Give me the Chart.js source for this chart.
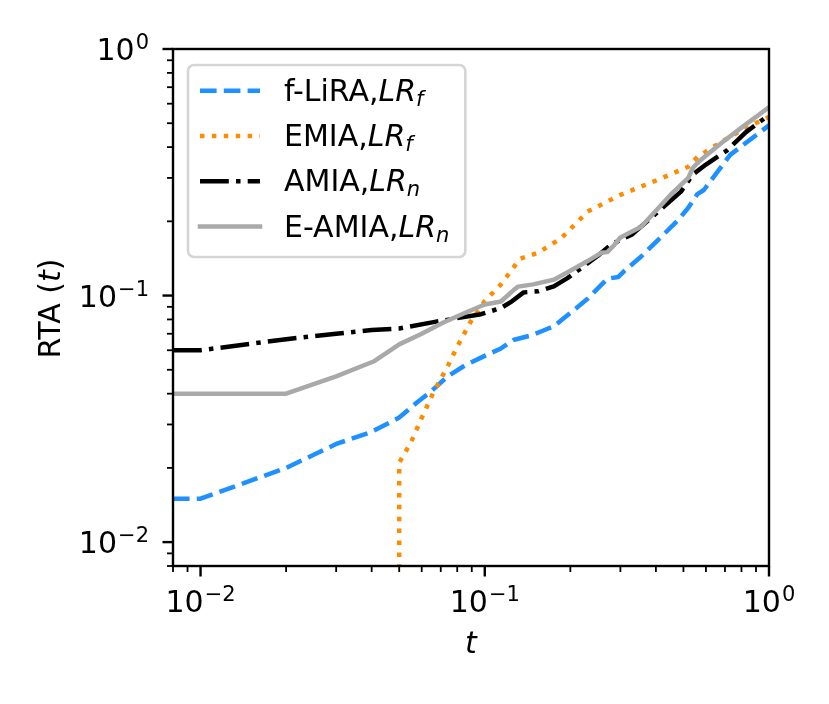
<!DOCTYPE html>
<html>
<head>
<meta charset="utf-8">
<script src="https://cdn.jsdelivr.net/npm/chart.js@4.4.0/dist/chart.umd.min.js"></script>
<style>
  html, body { margin: 0; padding: 0; background: #fff; }
</style>
</head>
<body>
<canvas id="rta" width="829" height="704"></canvas>
<script>
// values (log-log)
const tFLiRA   = [0.008, 0.01, 0.02, 0.03, 0.04, 0.05, 0.058, 0.065, 0.074, 0.085, 0.097, 0.114, 0.126, 0.146, 0.16, 0.175, 0.19, 0.23, 0.27, 0.295, 0.31, 0.355, 0.394, 0.48, 0.52, 0.56, 0.59, 0.73, 1.0]
const rtaFLiRA = [0.015, 0.015, 0.020, 0.025, 0.028, 0.032, 0.037, 0.041, 0.047, 0.052, 0.056, 0.061, 0.066, 0.069, 0.072, 0.075, 0.081, 0.097, 0.117, 0.119, 0.126, 0.144, 0.162, 0.203, 0.227, 0.258, 0.268, 0.372, 0.49]

const tEMIA   = [0.05, 0.05, 0.055, 0.0596, 0.066, 0.074, 0.08, 0.089, 0.1, 0.114, 0.133, 0.154, 0.186, 0.23, 0.3, 0.39, 0.52, 0.56, 0.68, 0.83, 1.0]
const rtaEMIA = [0.004, 0.021, 0.0254, 0.0314, 0.0405, 0.0516, 0.062, 0.078, 0.095, 0.111, 0.141, 0.149, 0.171, 0.219, 0.256, 0.289, 0.333, 0.365, 0.42, 0.48, 0.53]

const tAMIA   = [0.008, 0.01, 0.02, 0.03, 0.04, 0.05, 0.066, 0.08, 0.097, 0.114, 0.125, 0.137, 0.154, 0.175, 0.196, 0.22, 0.25, 0.278, 0.33, 0.415, 0.49, 0.54, 0.6, 0.71, 0.83, 1.0]
const rtaAMIA = [0.06, 0.06, 0.0665, 0.070, 0.0725, 0.0735, 0.078, 0.081, 0.084, 0.089, 0.095, 0.103, 0.104, 0.109, 0.118, 0.13, 0.145, 0.161, 0.177, 0.223, 0.264, 0.31, 0.34, 0.387, 0.46, 0.54]

const tEAMIA   = [0.008, 0.02, 0.03, 0.0406, 0.05, 0.06, 0.0715, 0.085, 0.1, 0.114, 0.126, 0.131, 0.148, 0.175, 0.2, 0.23, 0.257, 0.27, 0.285, 0.3, 0.355, 0.45, 0.52, 0.54, 0.575, 0.68, 0.8, 1.0]
const rtaEAMIA = [0.04, 0.04, 0.047, 0.054, 0.0634, 0.070, 0.0778, 0.085, 0.092, 0.0946, 0.105, 0.1087, 0.111, 0.116, 0.126, 0.138, 0.149, 0.15, 0.16, 0.172, 0.19, 0.256, 0.30, 0.33, 0.355, 0.416, 0.48, 0.58]

const seriesNames = ['f-LiRA', 'EMIA', 'AMIA', 'E-AMIA']
const seriesSubs = ['f', 'f', 'n', 'n']

// tick positions, same on both axes (decades get labels)
const tickValues = [0.008, 0.009, 0.01, 0.02, 0.03, 0.04, 0.05, 0.06, 0.07, 0.08, 0.09,
  0.1, 0.2, 0.3, 0.4, 0.5, 0.6, 0.7, 0.8, 0.9, 1]
const axisMin = 0.008
const axisMax = 1

const fontFamily = "'DejaVu Sans', sans-serif"
const fs = 30
const lw = 4.5

const isDecade = v => Math.abs(Math.log10(v) - Math.round(Math.log10(v))) < 1e-9
const decadeExp = v => String(Math.round(Math.log10(v))).replace('-', '\u2212')
const toPoints = (xs, ys) => xs.map((x, i) => ({ x, y: ys[i] }))

// spines and tick marks, matplotlib style
const frameAndTicks = {
  id: 'frameAndTicks',
  afterDatasetsDraw(chart) {
    const { ctx, chartArea: a, scales: { x, y } } = chart
    ctx.save()
    ctx.strokeStyle = '#000'
    ctx.setLineDash([])
    x.ticks.forEach(t => {
      const major = isDecade(t.value)
      const px = x.getPixelForValue(t.value)
      ctx.lineWidth = major ? 2.4 : 1.8
      ctx.beginPath()
      ctx.moveTo(px, a.bottom)
      ctx.lineTo(px, a.bottom + (major ? 10.5 : 6))
      ctx.stroke()
    })
    y.ticks.forEach(t => {
      const major = isDecade(t.value)
      const py = y.getPixelForValue(t.value)
      ctx.lineWidth = major ? 2.4 : 1.8
      ctx.beginPath()
      ctx.moveTo(a.left, py)
      ctx.lineTo(a.left - (major ? 10.5 : 6), py)
      ctx.stroke()
    })
    ctx.lineWidth = 2.4
    ctx.strokeRect(a.left, a.top, a.right - a.left, a.bottom - a.top)
    ctx.restore()
  }
}

// decade labels as 10 with a raised exponent
const tickLabels = {
  id: 'tickLabels',
  afterDraw(chart) {
    const { ctx, chartArea: a, scales: { x, y } } = chart
    const big = fs + 'px ' + fontFamily
    const sup = (fs * 0.7) + 'px ' + fontFamily
    const measure = v => {
      ctx.font = big
      const wb = ctx.measureText('10').width
      ctx.font = sup
      return [wb, ctx.measureText(decadeExp(v)).width]
    }
    const draw = (v, left, base) => {
      const [wb] = measure(v)
      ctx.font = big
      ctx.fillText('10', left, base)
      ctx.font = sup
      ctx.fillText(decadeExp(v), left + wb + 1, base - 11)
    }
    ctx.save()
    ctx.fillStyle = '#000'
    ctx.textBaseline = 'alphabetic'
    ctx.textAlign = 'left'
    x.ticks.filter(t => isDecade(t.value)).forEach(t => {
      const [wb, we] = measure(t.value)
      const px = x.getPixelForValue(t.value)
      draw(t.value, px - (wb + 1 + we) / 2, a.bottom + 46)
    })
    y.ticks.filter(t => isDecade(t.value)).forEach(t => {
      const [wb, we] = measure(t.value)
      const py = y.getPixelForValue(t.value)
      draw(t.value, a.left - 24 - (wb + 1 + we), py + 11)
    })
    ctx.restore()
  }
}

// y title with italic t
const yTitle = {
  id: 'yTitle',
  afterDraw(chart) {
    const { ctx, chartArea: a } = chart
    const parts = [['RTA (', ''], ['t', 'italic '], [')', '']]
    ctx.save()
    ctx.translate(60, (a.top + a.bottom) / 2 + 1)
    ctx.rotate(-Math.PI / 2)
    ctx.fillStyle = '#000'
    ctx.textBaseline = 'alphabetic'
    let total = 0
    parts.forEach(p => { ctx.font = p[1] + fs + 'px ' + fontFamily; total += ctx.measureText(p[0]).width })
    let cx = -total / 2
    parts.forEach(p => {
      ctx.font = p[1] + fs + 'px ' + fontFamily
      ctx.fillText(p[0], cx, 0)
      cx += ctx.measureText(p[0]).width
    })
    ctx.restore()
  }
}

// legend with mathtext-like labels
const legendBox = {
  id: 'legendBox',
  afterDraw(chart) {
    const { ctx, chartArea: a } = chart
    const pad = 12, handleLen = 60, textPad = 24, rowGap = 45.3
    const left = a.left + 15, top = a.top + 16
    const upright = fs + 'px ' + fontFamily
    const italic = 'italic ' + fs + 'px ' + fontFamily
    const small = 'italic ' + (fs * 0.7) + 'px ' + fontFamily
    ctx.save()
    const widths = seriesNames.map((n, i) => {
      ctx.font = upright
      let w = ctx.measureText(n + ',').width
      ctx.font = italic
      w += ctx.measureText('LR').width
      ctx.font = small
      return w + ctx.measureText(seriesSubs[i]).width
    })
    const w = pad + handleLen + textPad + Math.max(...widths) + pad + 4
    const h = 192
    const r = 6
    ctx.beginPath()
    ctx.moveTo(left + r, top)
    ctx.arcTo(left + w, top, left + w, top + h, r)
    ctx.arcTo(left + w, top + h, left, top + h, r)
    ctx.arcTo(left, top + h, left, top, r)
    ctx.arcTo(left, top, left + w, top, r)
    ctx.closePath()
    ctx.fillStyle = 'rgba(255,255,255,0.8)'
    ctx.fill()
    ctx.strokeStyle = '#d5d5d5'
    ctx.lineWidth = 2.6
    ctx.stroke()

    chart.data.datasets.forEach((ds, i) => {
      const cy = top + 25.7 + i * rowGap
      ctx.strokeStyle = ds.borderColor
      ctx.lineWidth = ds.borderWidth
      ctx.lineCap = ds.borderCapStyle
      ctx.setLineDash(ds.borderDash)
      ctx.beginPath()
      ctx.moveTo(left + pad, cy)
      ctx.lineTo(left + pad + handleLen, cy)
      ctx.stroke()
      ctx.setLineDash([])

      let tx = left + pad + handleLen + textPad
      const base = cy + 10
      ctx.fillStyle = '#000'
      ctx.textBaseline = 'alphabetic'
      ctx.font = upright
      ctx.fillText(seriesNames[i] + ',', tx, base)
      tx += ctx.measureText(seriesNames[i] + ',').width
      ctx.font = italic
      ctx.fillText('LR', tx, base)
      tx += ctx.measureText('LR').width
      ctx.font = small
      ctx.fillText(seriesSubs[i], tx, base + 5)
    })
    ctx.restore()
  }
}

const common = {
  borderWidth: lw,
  pointRadius: 0,
  fill: false,
  tension: 0,
  borderJoinStyle: 'round',
  clip: 0
}

const ctx = document.getElementById('rta').getContext('2d')
new Chart(ctx, {
  type: 'line',
  data: {
    datasets: [
      { ...common, label: 'f-LiRA,LR_f', data: toPoints(tFLiRA, rtaFLiRA), borderColor: '#1E90FF', borderDash: [16.6, 7.2], borderCapStyle: 'butt', order: 4 },
      { ...common, label: 'EMIA,LR_f', data: toPoints(tEMIA, rtaEMIA), borderColor: '#FF8C00', borderDash: [4.5, 7.4], borderCapStyle: 'butt', order: 3 },
      { ...common, label: 'AMIA,LR_n', data: toPoints(tAMIA, rtaAMIA), borderColor: '#000000', borderDash: [28.8, 7.2, 4.5, 7.2], borderCapStyle: 'butt', order: 2 },
      { ...common, label: 'E-AMIA,LR_n', data: toPoints(tEAMIA, rtaEAMIA), borderColor: '#A9A9A9', borderDash: [], borderCapStyle: 'square', order: 1 }
    ]
  },
  options: {
    responsive: false,
    devicePixelRatio: 1,
    animation: false,
    events: [],
    layout: {
      padding: { left: 0, top: 49, right: 60, bottom: 0 }
    },
    plugins: {
      legend: { display: false },
      tooltip: { enabled: false }
    },
    scales: {
      x: {
        type: 'logarithmic',
        min: axisMin,
        max: axisMax,
        afterBuildTicks: scale => { scale.ticks = tickValues.map(v => ({ value: v })) },
        afterFit: scale => { scale.height = 138 },
        grid: { display: false, drawTicks: false },
        border: { display: false },
        ticks: { display: false, autoSkip: false },
        title: {
          display: true,
          text: 't',
          color: '#000',
          font: { family: fontFamily, size: fs, style: 'italic' },
          padding: { top: 0, bottom: 41 }
        }
      },
      y: {
        type: 'logarithmic',
        min: axisMin,
        max: axisMax,
        afterBuildTicks: scale => { scale.ticks = tickValues.map(v => ({ value: v })) },
        afterFit: scale => { scale.width = 173 },
        grid: { display: false, drawTicks: false },
        border: { display: false },
        ticks: { display: false, autoSkip: false }
      }
    }
  },
  plugins: [frameAndTicks, tickLabels, yTitle, legendBox]
})
</script>
</body>
</html>
